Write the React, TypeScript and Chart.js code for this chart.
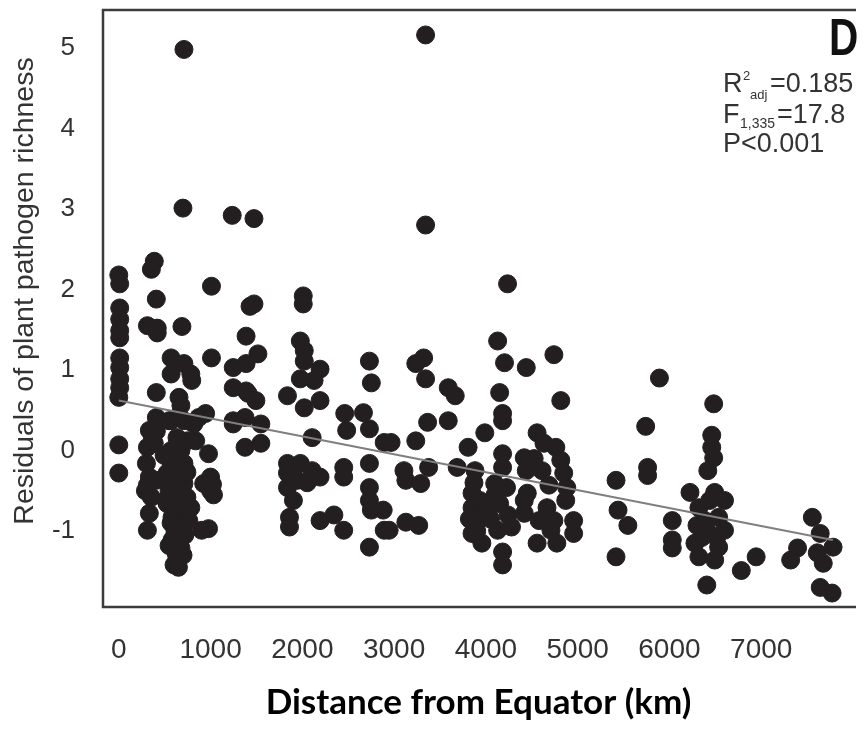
import React, { useEffect, useRef } from "react";
import { Chart, registerables } from "chart.js";

Chart.register(...registerables);

const X_TICKS = [0, 1000, 2000, 3000, 4000, 5000, 6000, 7000];
const Y_TICKS = [-1, 0, 1, 2, 3, 4, 5];

const X_TITLE = "Distance from Equator (km)";
const Y_TITLE = "Residuals of plant pathogen richness";
const PANEL_LABEL = "D";
const STAT_R2 = ["R", "2", "adj", "=0.185"];
const STAT_F = ["F", "1,335", "=17.8"];
const STAT_P = "P<0.001";

// Distance from equator (km) for each site
const DIST_KM = [
  0, 10, 10, 10, 10, 10, 10, 10, 10, 10, 0, 0, 0,
  387, 355, 409, 312, 419, 419, 409, 409, 387, 312, 301, 333, 355, 333, 312, 290, 366,
  710, 699, 688, 570, 570, 710, 785, 795, 656, 677, 570, 710, 817, 570, 677, 570, 710, 602, 710, 527, 634, 785, 570, 677, 602, 634, 602,
  634, 742, 548, 656, 742, 613, 720, 548, 677, 763, 494, 742, 634, 838, 700, 650,
  333, 409, 548, 656, 871, 623, 731, 527, 409, 312, 516, 580, 656, 580, 623,
  1010, 1010, 946, 978, 1000, 925, 1000, 978, 903, 1032, 1021,
  1236, 1473, 1430, 1473, 1387, 1516, 1247, 1387, 1247, 1387, 1408, 1494, 1247, 1376, 1548, 1376, 1548, 1247,
  2010, 2010, 1978, 2021, 2021, 2193, 1978, 2128, 1838, 2021, 2193, 2107, 1838, 1838, 1978, 1838, 2053, 2193, 1860, 1860, 2193, 1946, 2107, 1903,
  2344, 2451, 2462, 2483, 2451, 2451,
  2731, 2752, 2666, 2731, 2892, 2731, 2731, 2731, 2752, 2881, 2731, 2892, 2946,
  3343, 3343, 3322, 3236, 3343, 3365, 2967, 3236, 3107, 3128, 3290, 3376, 3128, 3268,
  3590, 3666, 3590, 3806, 3687, 3881, 3849, 3849, 3913, 3849, 3956, 3988, 3870, 3935, 3900, 3820,
  4236, 4128, 4203, 4150, 4182, 4182, 4182, 4182, 4096, 4225, 4021, 4150, 4279, 4128, 4182, 4182, 4050, 4240, 4100,
  4440, 4741, 4816, 4558, 4418, 4440, 4633, 4762, 4816, 4848, 4881, 4870, 4418, 4418, 4451, 4666, 4741, 4956, 4956, 4558, 4773, 4709, 4612, 4687, 4580, 4526,
  5418, 5440, 5547, 5418,
  5891, 5741, 5762, 5762, 6031, 6031, 6031,
  6482, 6461, 6461, 6482, 6224, 6493, 6600, 6321, 6386, 6536, 6353, 6600, 6278, 6536, 6321, 6493, 6407, 6407, 6439, 6418, 6300, 6514,
  6783, 6945,
  7557, 7643, 7396, 7321, 7611, 7783, 7676, 7643, 7772,
];

// Residuals of plant pathogen richness for each site
const RESIDUALS = [
  2.18, 2.07, 1.77, 1.63, 1.49, 1.4, 1.15, 1.03, 0.89, 0.78, 0.66, 0.07, -0.28,
  2.35, 2.25, 1.88, 1.55, 1.52, 1.46, 0.72, 0.24, 0.09, 0.04, -0.16, -0.33, -0.58, -0.78, -0.99, -0.5, 0.16,
  4.98, 3.01, 1.54, 1.15, 0.95, 1.08, 0.95, 0.87, 0.66, 0.56, 0.37, 0.37, 0.33, 0.0, 0.0, -0.16, -0.16, -0.37, -0.41, -0.66, -0.74, -0.71, -0.9, -0.9, -1.11, -1.32, -1.42,
  -0.25, -0.27, -0.5, -0.56, -0.58, -1.01, -1.05, -1.18, -1.21, -0.87, -0.06, 0.12, 0.16, 0.12, -1.3, -1.45,
  0.25, 0.41, 0.37, 0.43, 0.41, 0.04, -0.25, -0.28, -0.37, -0.43, -0.62, -0.83, -0.95, -1.11, -1.27,
  2.04, 1.15, 0.46, -0.04, -0.33, -0.41, -0.5, -0.97, -0.99, -0.55, -0.42,
  2.92, 2.88, 1.79, 1.82, 1.42, 1.2, 1.03, 1.08, 0.78, 0.74, 0.71, 0.62, 0.37, 0.41, 0.33, 0.04, 0.09, 0.33,
  1.92, 1.82, 1.36, 1.24, 1.11, 1.01, 0.89, 0.87, 0.68, 0.53, 0.62, 0.16, -0.16, -0.28, -0.16, -0.46, -0.4, -0.33, -0.83, -0.95, -0.87, -0.37, -0.25, -0.62,
  -0.8, -0.99, 0.46, 0.25, -0.21, -0.33,
  1.11, 0.84, 0.47, 0.27, 0.1, -0.16, -0.46, -0.62, -0.74, -0.74, -1.2, -0.99, -0.99,
  5.16, 2.8, 1.15, 1.08, 0.89, 0.35, 0.1, 0.12, -0.25, -0.37, -0.41, -0.21, -0.89, -0.93,
  0.78, 0.68, 0.37, 0.04, -0.21, -0.25, -0.53, -0.71, -0.87, -1.03, -1.15, 0.22, -0.4, -0.62, -1.0, -0.85,
  2.07, 1.36, 1.09, 0.72, 0.46, 0.37, -0.04, -0.21, -0.41, -0.46, -0.71, -0.66, -0.95, -0.99, -1.26, -1.42, -0.85, -0.8, -0.55,
  1.03, 1.19, 0.62, 0.22, -0.09, -0.25, 0.09, 0.04, -0.12, -0.28, -0.46, -0.62, -0.62, -0.78, -0.53, -0.71, -0.87, -0.87, -1.03, -1.15, -1.15, -0.99, -0.25, -0.43, -0.87, -0.1,
  -0.37, -0.74, -0.93, -1.32,
  0.9, 0.3, -0.21, -0.31, -0.87, -1.11, -1.21,
  0.58, 0.19, 0.04, -0.09, -0.52, -0.52, -0.62, -0.71, -0.87, -0.83, -1.08, -0.99, -1.15, -1.2, -1.32, -1.36, -1.67, -0.99, -0.62, -0.25, -0.93, -1.08,
  -1.49, -1.32,
  -0.83, -1.03, -1.21, -1.36, -1.27, -1.2, -1.4, -1.7, -1.77,
];

// Fitted regression line end points
const FIT_X = [0, 7780];
const FIT_Y = [0.62, -1.11];

const overlayPlugin = {
  id: "overlay",
  afterDraw(chart: any) {
    const { ctx, chartArea: a } = chart;
    ctx.save();
    // frame: top, left, bottom (right side runs off the picture)
    ctx.strokeStyle = "#3c3c3c";
    ctx.lineWidth = 2.5;
    ctx.beginPath();
    ctx.moveTo(a.right + 2, a.top);
    ctx.lineTo(a.left, a.top);
    ctx.lineTo(a.left, a.bottom);
    ctx.lineTo(a.right + 2, a.bottom);
    ctx.stroke();

    // y axis title
    ctx.save();
    ctx.fillStyle = "#333";
    ctx.font = '28.5px "Liberation Sans", Arial, sans-serif';
    ctx.translate(33, 291);
    ctx.rotate(-Math.PI / 2);
    ctx.textAlign = "center";
    ctx.textBaseline = "alphabetic";
    ctx.fillText(Y_TITLE, 0, 0);
    ctx.restore();

    // panel letter
    ctx.save();
    ctx.fillStyle = "#111";
    ctx.font = 'bold 52px "Liberation Sans", Arial, sans-serif';
    ctx.textBaseline = "alphabetic";
    ctx.textAlign = "left";
    ctx.translate(829, 55);
    ctx.scale(0.78, 1);
    ctx.fillText(PANEL_LABEL, 0, 0);
    ctx.restore();

    // statistics
    ctx.fillStyle = "#333";
    ctx.textAlign = "left";
    ctx.textBaseline = "alphabetic";
    const big = '27px "Liberation Sans", Arial, sans-serif';
    const small = '13px "Liberation Sans", Arial, sans-serif';
    const small2 = '14px "Liberation Sans", Arial, sans-serif';
    ctx.font = big;
    ctx.fillText(STAT_R2[0], 723, 92);
    ctx.fillText(STAT_R2[3], 770, 92);
    ctx.font = small;
    ctx.fillText(STAT_R2[1], 743, 80);
    ctx.fillText(STAT_R2[2], 750, 99);
    ctx.font = big;
    ctx.fillText(STAT_F[0], 723, 123);
    ctx.fillText(STAT_F[2], 777, 123);
    ctx.font = small2;
    ctx.fillText(STAT_F[1], 740, 128);
    ctx.font = big;
    ctx.fillText(STAT_P, 723, 152);
    ctx.restore();
  },
};

export default function App() {
  const canvasRef = useRef<HTMLCanvasElement | null>(null);

  useEffect(() => {
    if (!canvasRef.current) return;
    const points = DIST_KM.map((x, i) => ({ x, y: RESIDUALS[i] }));
    const fit = FIT_X.map((x, i) => ({ x, y: FIT_Y[i] }));
    const tickFont = { family: '"Liberation Sans", Arial, sans-serif', size: 28 };
    const chart = new Chart(canvasRef.current, {
      type: "scatter",
      data: {
        datasets: [
          {
            type: "line",
            data: fit,
            borderColor: "#7f7f7f",
            borderWidth: 2,
            pointRadius: 0,
            fill: false,
            order: 0,
          } as any,
          {
            type: "scatter",
            data: points,
            backgroundColor: "#231f20",
            borderColor: "#231f20",
            borderWidth: 1,
            pointRadius: 9,
            pointHoverRadius: 9,
            order: 1,
          },
        ],
      },
      options: {
        animation: false,
        responsive: true,
        maintainAspectRatio: false,
        layout: { padding: { top: 8, right: 0, left: 0, bottom: 0 } },
        plugins: { legend: { display: false }, tooltip: { enabled: false } },
        events: [],
        scales: {
          x: {
            type: "linear",
            min: -172,
            max: 8011,
            grid: { display: false, drawTicks: false },
            border: { display: false },
            afterBuildTicks: (s: any) => {
              s.ticks = X_TICKS.map((v) => ({ value: v }));
            },
            afterFit: (s: any) => {
              s.height = 126;
              s.paddingLeft = 0;
              s.paddingRight = 0;
            },
            ticks: {
              font: tickFont,
              color: "#333",
              padding: 26,
              maxRotation: 0,
              autoSkip: false,
              callback: (v: any) => String(v),
            },
            title: {
              display: true,
              text: X_TITLE,
              font: { family: "Lato, sans-serif", weight: "bold", size: 35 },
              color: "#000",
              padding: { top: 0, bottom: 9 },
            },
          },
          y: {
            type: "linear",
            min: -1.943,
            max: 5.47,
            grid: { display: false, drawTicks: false },
            border: { display: false },
            afterBuildTicks: (s: any) => {
              s.ticks = Y_TICKS.map((v) => ({ value: v }));
            },
            afterFit: (s: any) => {
              s.width = 103;
              s.paddingTop = 0;
              s.paddingBottom = 0;
            },
            ticks: {
              font: { family: '"Liberation Sans", Arial, sans-serif', size: 26 },
              color: "#333",
              padding: 28,
              autoSkip: false,
              callback: (v: any) => String(v),
            },
          },
        },
      },
      plugins: [overlayPlugin],
    });
    return () => chart.destroy();
  }, []);

  return (
    <div
      style={{
        position: "fixed",
        left: 0,
        top: 0,
        width: 864,
        height: 733,
        background: "#fff",
      }}
    >
      <canvas ref={canvasRef} />
    </div>
  );
}
